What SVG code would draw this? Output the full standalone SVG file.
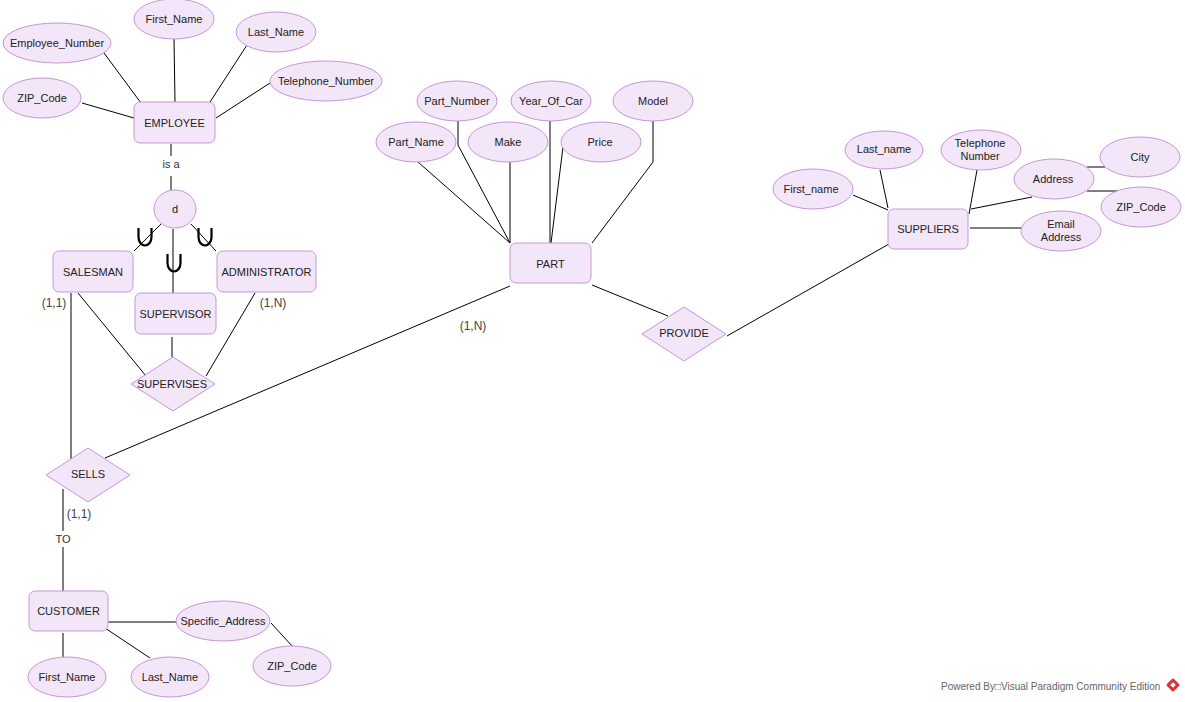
<svg xmlns="http://www.w3.org/2000/svg" width="1185" height="702" viewBox="0 0 1185 702">
<style>
.ent{fill:#f3e6f8;stroke:#c596d6;stroke-width:1}
.att{fill:#f3e6f8;stroke:#c596d6;stroke-width:1}
.rel{fill:#f3e6f8;stroke:#c596d6;stroke-width:1}
.ln{stroke:#000;stroke-width:1;fill:none}
.cup{stroke:#000;stroke-width:2.2;fill:none}
text{font-family:"Liberation Sans",Arial,sans-serif;font-size:11px;fill:#222;text-anchor:middle;dominant-baseline:central}
.lbl{fill:#333}
.card{fill:#444;font-size:12px}
.foot{font-size:10px;fill:#666;text-anchor:start}
</style>
<rect width="1185" height="702" fill="#fff"/>
<g id="connectors">
<line class="ln" x1="104" y1="53" x2="141" y2="103"/>
<line class="ln" x1="174" y1="39" x2="175" y2="102"/>
<line class="ln" x1="247" y1="45" x2="210" y2="102"/>
<line class="ln" x1="270" y1="83" x2="216" y2="118"/>
<line class="ln" x1="82" y1="103" x2="134" y2="118"/>
<line class="ln" x1="171" y1="144" x2="171" y2="156"/>
<line class="ln" x1="171" y1="176" x2="171" y2="190"/>
<line class="ln" x1="161" y1="224" x2="134" y2="251"/>
<line class="ln" x1="173" y1="229" x2="173" y2="293"/>
<line class="ln" x1="191" y1="224" x2="216" y2="251"/>
<line class="ln" x1="78" y1="293" x2="146" y2="376"/>
<line class="ln" x1="172" y1="337" x2="172" y2="357"/>
<line class="ln" x1="255" y1="293" x2="206" y2="376"/>
<line class="ln" x1="71" y1="293" x2="71" y2="459"/>
<line class="ln" x1="105" y1="458" x2="510" y2="286"/>
<line class="ln" x1="63" y1="489" x2="63" y2="531"/>
<line class="ln" x1="63" y1="547" x2="63" y2="591"/>
<line class="ln" x1="108" y1="622" x2="176" y2="622"/>
<line class="ln" x1="271" y1="623" x2="293" y2="647"/>
<line class="ln" x1="63" y1="633" x2="63" y2="658"/>
<line class="ln" x1="105" y1="628" x2="150" y2="658"/>
<line class="ln" x1="418" y1="162" x2="510" y2="243"/>
<polyline class="ln" points="458,121 458,145 510,243"/>
<line class="ln" x1="510" y1="162" x2="510" y2="243"/>
<line class="ln" x1="550" y1="121" x2="550" y2="243"/>
<line class="ln" x1="563" y1="147" x2="551" y2="243"/>
<polyline class="ln" points="653,121 653,162 592,243"/>
<line class="ln" x1="592" y1="285" x2="668" y2="316"/>
<line class="ln" x1="727" y1="336" x2="889" y2="244"/>
<line class="ln" x1="853" y1="195" x2="888" y2="210"/>
<line class="ln" x1="880" y1="170" x2="888" y2="208"/>
<line class="ln" x1="977" y1="170" x2="969" y2="214"/>
<line class="ln" x1="971" y1="209" x2="1032" y2="197"/>
<line class="ln" x1="1087" y1="167" x2="1105" y2="167"/>
<line class="ln" x1="1087" y1="191" x2="1118" y2="191"/>
<line class="ln" x1="970" y1="228" x2="1022" y2="228"/>
</g>
<g id="subset-symbols">
<path class="cup" d="M138.5,228 V237 A6.5,8.5 0 0 0 151.5,237 V228"/>
<path class="cup" d="M167.5,254 V263 A6.5,8.5 0 0 0 180.5,263 V254"/>
<path class="cup" d="M198.5,228 V237 A6.5,8.5 0 0 0 211.5,237 V228"/>
</g>
<g id="employee"><rect class="ent" x="134" y="102" width="81" height="41" rx="6"/><text x="174.5" y="122.5">EMPLOYEE</text></g>
<g id="employee-first-name"><ellipse class="att" cx="174" cy="19" rx="40" ry="20"/><text x="174" y="19">First_Name</text></g>
<g id="employee-number"><ellipse class="att" cx="57" cy="43" rx="54" ry="20"/><text x="57" y="43">Employee_Number</text></g>
<g id="employee-last-name"><ellipse class="att" cx="276" cy="32" rx="40" ry="20"/><text x="276" y="32">Last_Name</text></g>
<g id="employee-telephone"><ellipse class="att" cx="326" cy="81" rx="56" ry="20"/><text x="326" y="81">Telephone_Number</text></g>
<g id="employee-zip"><ellipse class="att" cx="42" cy="98" rx="39" ry="20"/><text x="42" y="98">ZIP_Code</text></g>
<g id="isa-label"><text class="lbl" x="171" y="164">is a</text></g>
<g id="disjoint"><ellipse class="att" cx="175" cy="209" rx="21" ry="19"/><text x="175" y="209">d</text></g>
<g id="salesman"><rect class="ent" x="53" y="251" width="80" height="41" rx="6"/><text x="93" y="271.5">SALESMAN</text></g>
<g id="administrator"><rect class="ent" x="217" y="251" width="99" height="41" rx="6"/><text x="266.5" y="271.5">ADMINISTRATOR</text></g>
<g id="supervisor"><rect class="ent" x="135" y="293" width="81" height="41" rx="6"/><text x="175.5" y="313.5">SUPERVISOR</text></g>
<g id="card-labels">
<text class="card" x="54" y="303">(1,1)</text>
<text class="card" x="273" y="303">(1,N)</text>
<text class="card" x="79" y="514">(1,1)</text>
<text class="lbl" x="63" y="539">TO</text>
<text class="card" x="473" y="326">(1,N)</text>
</g>
<g id="supervises"><polygon class="rel" points="173,357 215,384 173,411 131,384"/><text x="172" y="384">SUPERVISES</text></g>
<g id="sells"><polygon class="rel" points="88,448 130,475 88,502 46,475"/><text x="88" y="474">SELLS</text></g>
<g id="customer"><rect class="ent" x="29" y="591" width="79" height="40" rx="6"/><text x="68.5" y="611">CUSTOMER</text></g>
<g id="customer-specific-address"><ellipse class="att" cx="223" cy="621" rx="47" ry="20"/><text x="223" y="621">Specific_Address</text></g>
<g id="customer-zip"><ellipse class="att" cx="292" cy="666" rx="39" ry="20"/><text x="292" y="666">ZIP_Code</text></g>
<g id="customer-first-name"><ellipse class="att" cx="67" cy="677" rx="39" ry="20"/><text x="67" y="677">First_Name</text></g>
<g id="customer-last-name"><ellipse class="att" cx="170" cy="677" rx="39" ry="20"/><text x="170" y="677">Last_Name</text></g>
<g id="part"><rect class="ent" x="510" y="243" width="81" height="40" rx="6"/><text x="550.5" y="264">PART</text></g>
<g id="part-number"><ellipse class="att" cx="457" cy="101" rx="40" ry="20"/><text x="457" y="101">Part_Number</text></g>
<g id="part-year"><ellipse class="att" cx="551" cy="101" rx="40" ry="20"/><text x="551" y="101">Year_Of_Car</text></g>
<g id="part-model"><ellipse class="att" cx="653" cy="101" rx="40" ry="20"/><text x="653" y="101">Model</text></g>
<g id="part-name"><ellipse class="att" cx="416" cy="142" rx="40" ry="20"/><text x="416" y="142">Part_Name</text></g>
<g id="part-make"><ellipse class="att" cx="508" cy="142" rx="40" ry="20"/><text x="508" y="142">Make</text></g>
<g id="part-price"><ellipse class="att" cx="601" cy="142" rx="40" ry="20"/><text x="600" y="142">Price</text></g>
<g id="provide"><polygon class="rel" points="684,307 726,334 684,361 642,334"/><text x="684" y="333">PROVIDE</text></g>
<g id="suppliers"><rect class="ent" x="888" y="209" width="80" height="40" rx="6"/><text x="928" y="229">SUPPLIERS</text></g>
<g id="suppliers-first-name"><ellipse class="att" cx="813" cy="189" rx="40" ry="20"/><text x="811" y="189">First_name</text></g>
<g id="suppliers-last-name"><ellipse class="att" cx="884" cy="150" rx="39" ry="19"/><text x="884" y="149">Last_name</text></g>
<g id="suppliers-telephone"><ellipse class="att" cx="981" cy="150" rx="40" ry="20"/><text x="980" y="143">Telephone</text><text x="980" y="156">Number</text></g>
<g id="suppliers-address"><ellipse class="att" cx="1054" cy="179" rx="40" ry="20"/><text x="1053" y="179">Address</text></g>
<g id="suppliers-city"><ellipse class="att" cx="1140" cy="157" rx="40" ry="20"/><text x="1140" y="157">City</text></g>
<g id="suppliers-zip"><ellipse class="att" cx="1141" cy="207" rx="40" ry="20"/><text x="1141" y="207">ZIP_Code</text></g>
<g id="suppliers-email"><ellipse class="att" cx="1061" cy="231" rx="40" ry="20"/><text x="1061" y="224">Email</text><text x="1061" y="237">Address</text></g>
<g id="footer">
<text class="foot" x="941" y="686">Powered By□Visual Paradigm Community Edition</text>
<g transform="translate(1173,685) rotate(45)"><rect x="-5" y="-5" width="10" height="10" rx="1.5" fill="#d9333a"/><rect x="-2" y="-2" width="4" height="4" fill="#fff"/></g>
</g>
</svg>
